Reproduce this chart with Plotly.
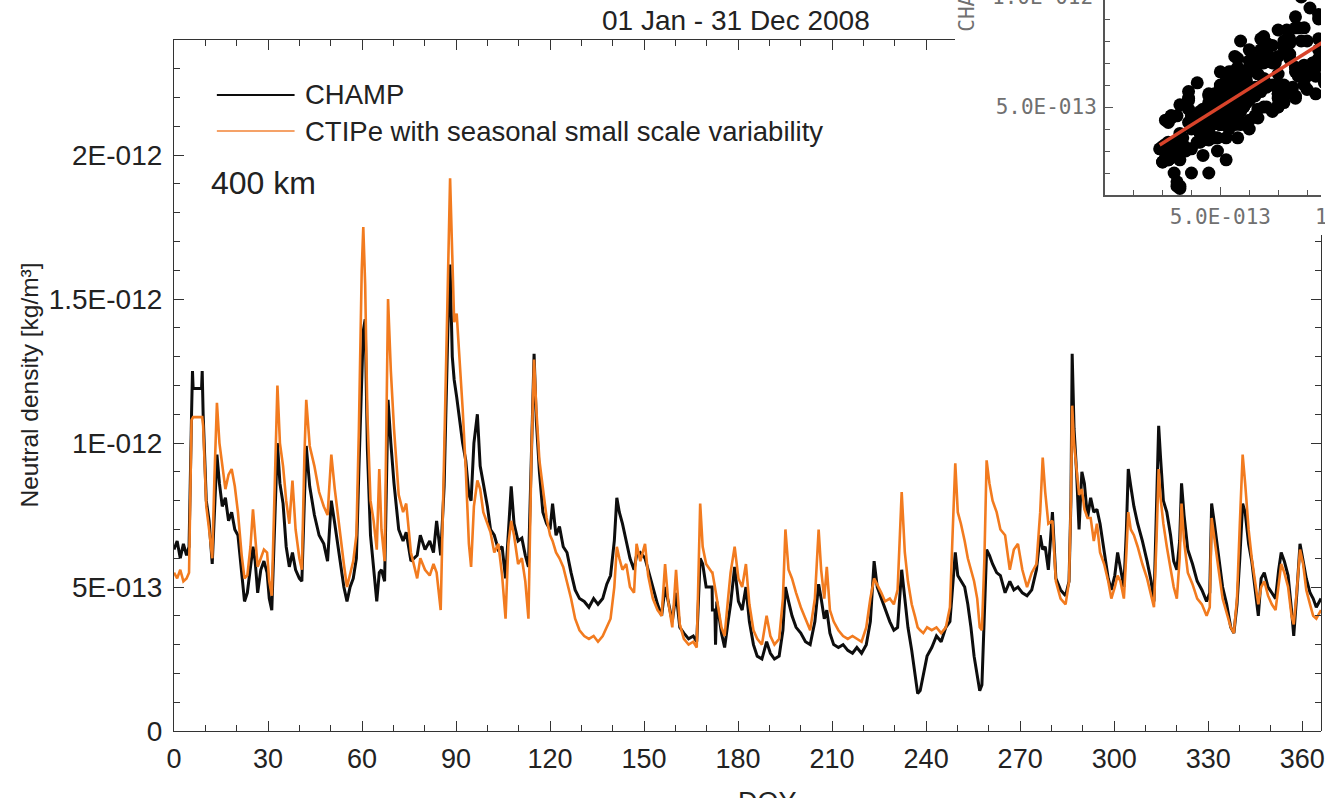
import plotly.graph_objects as go

UNIT = 1e-13  # values below are in units of 1e-13 kg/m^3

doy = [0, 1, 2, 3, 4, 4.8, 5.6, 5.9, 6.1, 8.8, 9.0, 9.3, 10.3, 11.2, 12.2, 12.9, 13.7, 14.5, 15.4, 16.4,
       17.4, 18.4, 19.4, 20.4, 21.6, 22.5, 23.4, 24.4, 25.2, 25.9, 26.7, 27.7, 28.7, 29.7, 30.4, 31.2,
       32.2, 33.0, 33.8, 34.8, 35.8, 36.8, 37.8, 38.8, 40.0, 40.8, 41.6, 42.2, 43.3, 44.8, 46.3, 47.8,
       49.0, 50.2, 51.3, 52.8, 54.2, 55.2, 56.2, 57.2, 58.2, 59.0, 59.9, 60.4, 61.0, 61.7, 62.7, 63.7,
       64.7, 65.5, 66.2, 67.2, 68.3, 69.2, 70.2, 71.7, 73.1, 74.1, 75.6, 77.6, 78.6, 80.1, 81.6, 82.8,
       83.8, 85.1, 86.2, 87.4, 88.1, 88.8, 89.4, 90.2, 91.1, 92.1, 93.1, 94.1, 94.8, 95.7, 96.8, 97.7,
       98.7, 100.0, 101.0, 102.2, 103.5, 104.7, 105.8, 106.7, 107.6, 108.5, 109.8, 111.0, 112.1, 113.1,
       114.1, 114.9, 115.6, 116.6, 117.7, 118.9, 120.0, 120.8, 121.9, 123.0, 124.2, 125.4, 126.7, 128.0,
       129.4, 130.9, 132.4, 133.9, 135.3, 136.8, 138.1, 139.3, 140.5, 141.3, 142.1, 143.1, 144.3, 145.5,
       146.8, 147.6, 148.8, 150.3, 151.3, 152.8, 154.3, 155.6, 156.7, 157.7, 159.0, 160.2, 161.4, 162.7,
       164.2, 165.7, 166.8, 167.9, 168.7, 169.8, 171.7, 171.8, 172.6, 172.8, 173.2, 174.7, 175.7, 176.8,
       177.6, 178.9, 180.1, 181.3, 182.5, 183.6, 184.9, 186.1, 187.6, 189.1, 190.3, 191.6, 193.1, 194.3,
       195.1, 196.1, 197.2, 198.5, 200.0, 201.5, 203.0, 204.5, 205.7, 206.5, 207.5, 208.3, 209.3, 210.5,
       212.0, 213.5, 215.0, 216.5, 217.9, 219.4, 220.9, 222.2, 223.4, 224.4, 225.7, 226.9, 228.4, 229.7,
       230.9, 232.2, 233.2, 234.2, 235.4, 236.4, 237.3, 238.1, 239.1, 240.3, 241.8, 243.3, 244.8, 246.3,
       247.6, 248.5, 249.3, 250.1, 251.1, 252.3, 253.3, 254.3, 255.3, 256.3, 257.1, 257.8, 258.6, 259.3,
       260.2, 261.2, 262.5, 263.7, 265.2, 266.7, 268.0, 269.3, 270.7, 272.2, 273.7, 275.2, 276.4, 277.2,
       278.0, 279.0, 280.3, 281.4, 282.9, 284.5, 285.6, 286.2, 286.6, 287.2, 288.0, 288.8, 289.7, 290.5,
       291.5, 292.5, 293.5, 294.5, 295.5, 296.8, 298.1, 299.1, 300.2, 301.1, 302.0, 303.1, 303.9, 304.5,
       305.3, 306.3, 307.5, 309.0, 310.5, 311.8, 312.7, 313.5, 314.2, 314.8, 315.7, 316.8, 318.0, 319.0,
       320.0, 320.9, 321.5, 322.3, 323.5, 325.0, 326.5, 328.0, 329.5, 330.5, 331.1, 332.0, 333.2, 334.6,
       335.9, 337.2, 338.2, 339.2, 340.1, 341.0, 341.8, 342.9, 343.9, 344.9, 346.0, 346.9, 347.9, 349.1,
       350.3, 351.5, 352.5, 353.3, 354.3, 355.5, 356.6, 357.3, 358.3, 359.3, 360.3, 361.3, 362.5, 363.5,
       364.5, 366.0]

champ = [6.3, 6.6, 6.0, 6.5, 6.1, 6.4, 11.0, 12.5, 11.9, 11.9, 12.5, 11.0, 8.0, 7.3, 5.8, 7.5, 9.6, 8.6, 7.8, 8.1,
         7.3, 7.6, 7.0, 6.8, 5.6, 4.5, 4.8, 5.8, 6.4, 5.9, 4.8, 5.6, 5.9, 5.5, 4.6, 4.2,
         7.5, 10.0, 8.6, 7.9, 6.4, 5.7, 6.2, 5.6, 5.3, 5.2, 8.0, 9.9, 8.5, 7.5, 6.8, 6.5,
         5.9, 8.0, 7.2, 6.0, 5.0, 4.5, 5.0, 5.3, 6.0, 9.1, 12.0, 13.9, 14.3, 9.8, 6.8, 5.6,
         4.5, 5.5, 5.6, 5.2, 11.5, 10.0, 8.6, 7.0, 6.6, 6.9, 5.9, 6.1, 6.8, 6.3, 6.6, 6.2,
         7.3, 6.1, 8.5, 14.0, 16.2, 13.0, 12.2, 11.6, 10.8, 10.0, 9.4, 8.2, 8.0, 10.0, 11.0, 9.2,
         8.6, 7.8, 7.0, 6.8, 6.3, 6.4, 5.3, 7.0, 8.5, 7.2, 6.6, 6.7, 6.1, 5.7,
         9.5, 13.1, 10.8, 9.0, 7.6, 7.2, 7.0, 7.9, 6.8, 7.1, 6.4, 6.2, 5.5, 4.9,
         4.6, 4.5, 4.3, 4.6, 4.4, 4.6, 5.1, 5.4, 6.6, 8.1, 7.6, 7.2, 6.6, 6.0,
         5.6, 6.1, 6.2, 6.0, 5.6, 5.0, 4.4, 4.0, 5.0, 4.5, 3.8, 4.8, 3.6, 3.4,
         3.2, 3.3, 3.1, 6.0, 5.8, 5.0, 5.0, 4.2, 4.2, 3.0, 4.5, 3.4, 2.9, 3.8,
         4.4, 5.7, 4.5, 4.2, 5.0, 3.8, 3.0, 2.6, 2.5, 3.1, 2.7, 2.5, 2.6, 3.5,
         5.0, 4.5, 4.0, 3.6, 3.4, 3.1, 3.0, 3.8, 5.1, 4.6, 3.9, 4.2, 3.4, 3.0,
         2.9, 3.0, 2.8, 2.7, 2.9, 2.7, 3.0, 3.8, 5.9, 5.0, 4.6, 4.2, 3.8, 3.5,
         3.6, 5.6, 4.6, 3.6, 2.8, 2.0, 1.3, 1.4, 2.0, 2.6, 2.9, 3.3, 3.1, 3.6,
         3.8, 5.0, 6.2, 5.4, 5.2, 5.0, 4.4, 3.6, 2.6, 2.0, 1.4, 1.6, 4.0, 6.3,
         6.1, 5.8, 5.5, 5.4, 4.8, 5.2, 4.9, 5.0, 4.8, 4.7, 4.9, 5.6, 6.8, 6.3,
         6.4, 5.6, 7.6, 5.3, 4.9, 4.7, 5.2, 8.0, 13.1, 10.5, 9.0, 7.0, 9.0, 8.6,
         7.4, 8.1, 7.6, 7.7, 7.2, 6.2, 5.3, 4.9, 5.4, 6.2, 5.6, 5.0, 7.0, 9.1,
         8.5, 7.8, 7.2, 6.6, 5.9, 5.2, 4.5, 7.5, 10.6, 9.5, 8.0, 7.6, 6.8, 5.9,
         5.6, 6.6, 8.6, 7.5, 6.3, 5.8, 5.2, 4.9, 4.5, 4.8, 7.9, 7.2, 6.2, 5.0,
         4.4, 3.6, 3.4, 4.4, 6.0, 7.9, 7.6, 6.5, 5.9, 5.0, 4.0, 5.3, 5.5, 5.0,
         4.8, 4.6, 5.6, 6.2, 5.9, 5.4, 4.2, 3.3, 4.8, 6.5, 5.9, 5.3, 4.8, 4.6,
         4.3, 4.6]

ctipe = [5.5, 5.3, 5.6, 5.2, 5.3, 5.5, 10.8, 10.9, 10.9, 10.9, 10.9, 10.6, 7.8, 7.0, 6.0, 8.8, 11.4, 10.0, 9.3, 8.4,
         8.9, 9.1, 8.5, 7.6, 6.1, 5.3, 5.4, 6.4, 7.7, 6.6, 5.7, 6.0, 6.3, 6.2, 5.2, 4.7,
         8.5, 12.0, 10.0, 9.2, 8.0, 7.2, 8.7, 7.0, 6.0, 5.6, 9.5, 11.5, 9.9, 9.2, 8.3, 7.8,
         7.5, 9.6, 8.4, 7.0, 5.8, 5.0, 5.4, 5.9, 6.8, 10.5, 16.0, 17.5, 15.5, 11.0, 8.0, 7.3,
         6.3, 9.1, 7.0, 5.9, 15.0, 12.5, 10.5, 8.2, 7.6, 7.9, 6.2, 5.3, 6.0, 5.6, 5.4, 5.8,
         5.5, 4.2, 9.6, 16.0, 19.2, 16.5, 14.2, 14.5, 13.0, 11.2, 9.1, 6.5, 5.7, 7.8, 8.7, 8.4,
         7.6, 7.2, 6.9, 6.2, 6.5, 5.4, 3.9, 6.5, 7.3, 6.8, 5.8, 6.0, 5.2, 3.9,
         9.8, 12.9, 11.2, 9.4, 8.4, 7.4, 6.8, 6.6, 6.2, 6.0, 5.7, 5.2, 4.6, 3.9,
         3.5, 3.3, 3.2, 3.3, 3.1, 3.3, 3.6, 3.9, 5.0, 6.4, 6.0, 5.6, 5.8, 5.0,
         4.8, 6.5, 5.9, 6.5, 5.4, 4.6, 4.2, 4.0, 5.8, 4.5, 3.6, 5.6, 3.7, 3.2,
         3.0, 3.1, 2.9, 7.9, 6.4, 5.8, 5.5, 5.5, 5.0, 4.9, 4.6, 3.6, 3.3, 4.6,
         5.5, 6.4, 5.3, 5.0, 5.8, 4.4, 3.5, 3.2, 3.0, 4.0, 3.3, 3.0, 3.2, 4.6,
         7.0, 5.6, 5.3, 4.8, 4.3, 3.9, 3.5, 4.6, 7.0, 5.6, 4.6, 5.7, 4.2, 3.8,
         3.5, 3.3, 3.2, 3.3, 3.2, 3.1, 3.6, 4.6, 5.3, 5.1, 4.8, 4.5, 4.6, 4.4,
         4.9, 8.3, 6.2, 5.2, 4.4, 4.0, 3.6, 3.5, 3.4, 3.6, 3.5, 3.6, 3.4, 3.6,
         4.3, 7.0, 9.3, 7.6, 7.2, 6.6, 6.0, 5.6, 5.2, 4.6, 3.6, 3.5, 6.0, 9.4,
         8.6, 8.0, 7.6, 7.0, 6.8, 5.6, 6.3, 6.5, 5.6, 5.0, 5.5, 5.8, 7.6, 9.5,
         8.3, 7.2, 7.3, 5.2, 4.6, 4.4, 5.2, 8.0, 11.3, 10.0, 9.0, 8.2, 8.4, 7.7,
         7.4, 7.4, 6.6, 7.2, 6.2, 5.8, 5.2, 4.6, 5.0, 5.4, 5.2, 4.6, 6.2, 7.6,
         7.0, 6.8, 6.4, 5.8, 5.3, 4.7, 4.3, 6.6, 9.1, 8.1, 7.2, 6.4, 5.6, 5.0,
         4.6, 6.0, 7.9, 6.6, 5.5, 5.1, 4.6, 4.4, 4.0, 4.3, 7.4, 6.6, 5.7, 4.6,
         4.1, 3.6, 3.4, 4.6, 7.2, 9.6, 8.6, 7.0, 6.0, 5.3, 4.4, 5.0, 5.2, 4.7,
         4.4, 4.2, 5.2, 5.8, 5.5, 5.0, 4.0, 3.7, 4.9, 6.3, 5.8, 4.9, 4.4, 4.0,
         3.9, 4.2]

champ_v = [v * UNIT for v in champ]
ctipe_v = [v * UNIT for v in ctipe]

# inset regression line end points (CTIPe -> CHAMP)
fit_x = [2.9e-13, 1.9e-12]
fit_y = [3.27e-13, 1.66e-12]

x_ticks = [0, 30, 60, 90, 120, 150, 180, 210, 240, 270, 300, 330, 360]
y_ticks = [0, 5e-13, 1e-12, 1.5e-12, 2e-12]
y_ticktext = ["0", "5E-013", "1E-012", "1.5E-012", "2E-012"]

BLACK = "#0d0d0d"
ORANGE = "#F27B1F"
AXC = "#333333"
TXT = "#222222"
INSET_TXT = "#707070"
MAINFONT = "Liberation Sans, Arial, sans-serif"
INSETFONT = "DejaVu Sans Mono, monospace"

W, H = 1325, 798
L, R, T, B = 174, 0, 0, 67
PW, PH = W - L - R, H - T - B


def px(xp):
    return (xp - L) / PW


def py(yp):
    return (PH - yp) / PH


fig = go.Figure()
fig.add_trace(go.Scatter(x=doy, y=champ_v, mode="lines", name="CHAMP",
                         line=dict(color=BLACK, width=3.0), xaxis="x", yaxis="y", showlegend=False))
fig.add_trace(go.Scatter(x=doy, y=ctipe_v, mode="lines", name="CTIPe with seasonal small scale variability",
                         line=dict(color=ORANGE, width=2.6), xaxis="x", yaxis="y", showlegend=False))
# helper traces to make the partial top / right axes exist
fig.add_trace(go.Scatter(x=[None], y=[None], xaxis="x3", yaxis="y", showlegend=False, hoverinfo="skip"))
fig.add_trace(go.Scatter(x=[None], y=[None], xaxis="x", yaxis="y3", showlegend=False, hoverinfo="skip"))
# inset scatter
fig.add_trace(go.Scatter(x=ctipe_v, y=champ_v, mode="markers", marker=dict(color="#000000", size=13),
                         xaxis="x2", yaxis="y2", showlegend=False))
fig.add_trace(go.Scatter(x=fit_x, y=fit_y, mode="lines", line=dict(color="#D8432A", width=3.5),
                         xaxis="x2", yaxis="y2", showlegend=False))

ppd = 3.145
main_top = 40
ydom_top = py(main_top)
yrange_top = 2.4e-12

axis_common = dict(showgrid=False, zeroline=False, showline=True, linecolor=AXC, linewidth=1.2,
                   ticks="inside", tickcolor=AXC)
inset_axis = dict(showgrid=False, zeroline=False, showline=True, linecolor="#555555", linewidth=1.5,
                  ticks="inside", tickcolor="#555555", ticklen=8, tickwidth=1.2,
                  tickfont=dict(size=21, family=INSETFONT, color=INSET_TXT), ticklabelstandoff=2,
                  minor=dict(dtick=1e-13, tick0=0, ticklen=5, ticks="inside", tickcolor="#555555"))

fig.update_layout(
    width=W, height=H,
    margin=dict(l=L, r=R, t=T, b=B, pad=0),
    paper_bgcolor="white", plot_bgcolor="rgba(0,0,0,0)",
    showlegend=False,
    font=dict(family=MAINFONT, color=TXT),
    xaxis=dict(domain=[0, 1], range=[0, 366], anchor="y", tickvals=x_ticks, ticklen=10, tickwidth=1.2,
               minor=dict(dtick=10, tick0=0, ticklen=6, ticks="inside", tickcolor=AXC),
               tickfont=dict(size=27, family=MAINFONT, color=TXT), ticklabelstandoff=3,
               ticklabeloverflow="allow", mirror=False, **axis_common),
    yaxis=dict(domain=[0, ydom_top], range=[0, yrange_top], anchor="x", tickvals=y_ticks, ticktext=y_ticktext,
               ticklen=10, tickwidth=1.2,
               minor=dict(dtick=1e-13, tick0=0, ticklen=6, ticks="inside", tickcolor=AXC),
               tickfont=dict(size=28, family=MAINFONT, color=TXT), ticklabelstandoff=5,
               ticklabeloverflow="allow", mirror=False, **axis_common),
    xaxis3=dict(domain=[0, px(958)], range=[0, (958 - L) / ppd], anchor="y", side="top",
                tickvals=x_ticks, ticklen=10, tickwidth=1.2, showticklabels=False,
                minor=dict(dtick=10, tick0=0, ticklen=6, ticks="inside", tickcolor=AXC),
                **axis_common),
    yaxis3=dict(domain=[0, py(235)], range=[0, yrange_top * py(235) / ydom_top], anchor="x", side="right",
                tickvals=y_ticks, ticklen=10, tickwidth=1.2, showticklabels=False,
                minor=dict(dtick=1e-13, tick0=0, ticklen=6, ticks="inside", tickcolor=AXC),
                **axis_common),
    xaxis2=dict(domain=[px(1108), 1], range=[1e-13, 1e-13 + (W - 1108) / 29 * 1e-13], anchor="y2",
                tickvals=[5e-13, 1e-12], ticktext=["5.0E-013", "1.0E-012"], **inset_axis),
    yaxis2=dict(domain=[py(195), 1], range=[1e-13, 1e-13 + 195 / 22 * 1e-13], anchor="x2",
                tickvals=[5e-13, 1e-12], ticktext=["5.0E-013", "1.0E-012"], **inset_axis),
)

ann = []
ann.append(dict(text="01 Jan - 31 Dec 2008", x=px(738), y=py(20), xref="paper", yref="paper",
                xanchor="center", yanchor="middle", showarrow=False,
                font=dict(size=28, family=MAINFONT, color=TXT)))
ann.append(dict(text="400 km", x=px(209), y=py(183), xref="paper", yref="paper",
                xanchor="left", yanchor="middle", showarrow=False,
                font=dict(size=32, family=MAINFONT, color=TXT)))
ann.append(dict(text="CHAMP", x=px(303), y=py(95), xref="paper", yref="paper",
                xanchor="left", yanchor="middle", showarrow=False,
                font=dict(size=27.5, family=MAINFONT, color=TXT)))
ann.append(dict(text="CTIPe with seasonal small scale variability", x=px(303), y=py(131), xref="paper",
                yref="paper", xanchor="left", yanchor="middle", showarrow=False,
                font=dict(size=27.5, family=MAINFONT, color=TXT)))
ann.append(dict(text="Neutral density [kg/m³]", x=px(28), y=py(385), xref="paper", yref="paper",
                xanchor="center", yanchor="middle", textangle=-90, showarrow=False,
                font=dict(size=24.5, family=MAINFONT, color=TXT)))
ann.append(dict(text="DOY", x=px(770), y=py(785), xref="paper", yref="paper",
                xanchor="center", yanchor="top", showarrow=False,
                font=dict(size=27, family=MAINFONT, color=TXT)))
# inset: axis title and the out-of-range tick labels that are cut by the frame
ann.append(dict(text="CHAMP", x=px(970), y=py(34), xref="paper", yref="paper",
                xanchor="center", yanchor="bottom", textangle=-90, showarrow=False,
                font=dict(size=21, family=INSETFONT, color=INSET_TXT)))
ann.append(dict(text="1.0E-012", x=px(1098), y=py(-3), xref="paper", yref="paper",
                xanchor="right", yanchor="middle", showarrow=False,
                font=dict(size=21, family=INSETFONT, color=INSET_TXT)))
ann.append(dict(text="1.0E-012", x=px(1370), y=py(203), xref="paper", yref="paper",
                xanchor="center", yanchor="top", showarrow=False,
                font=dict(size=21, family=INSETFONT, color=INSET_TXT)))
fig.update_layout(annotations=ann)

shapes = [
    dict(type="line", xref="paper", yref="paper", x0=px(217), x1=px(295), y0=py(95), y1=py(95),
         line=dict(color=BLACK, width=2)),
    dict(type="line", xref="paper", yref="paper", x0=px(217), x1=px(295), y0=py(131), y1=py(131),
         line=dict(color="#F5A268", width=2)),
]
fig.update_layout(shapes=shapes)

fig.write_html("out.html", config={"displayModeBar": False},
               post_script="document.body.style.margin='0px';document.body.style.overflow='hidden';")
